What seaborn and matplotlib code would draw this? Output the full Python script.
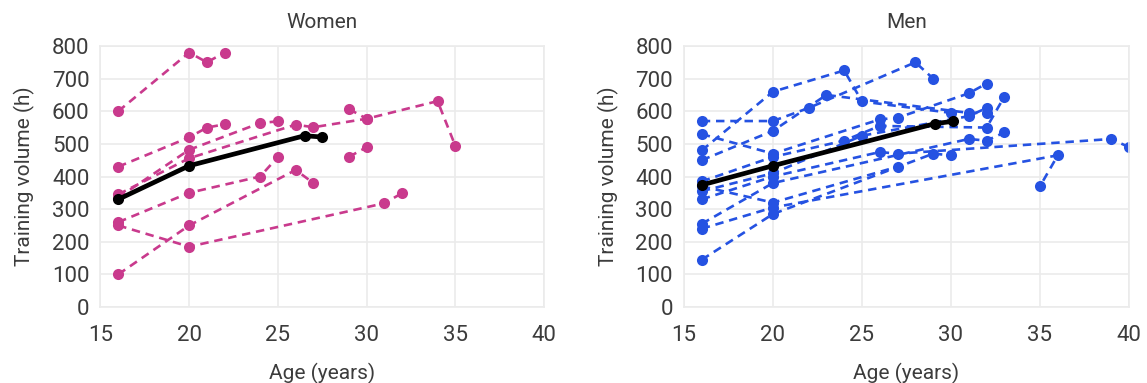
import pandas as pd
import matplotlib
matplotlib.use("Agg")
import matplotlib.pyplot as plt
import seaborn as sns

# ---------------------------------
# Data
# ---------------------------------

WOMEN_AGES = [
    [16, 20, 21, 22],
    [16, 20, 21, 22],
    [16, 20, 24, 25],
    [16, 20, 26, 27, 30, 34, 35],
    [16, 20, 24, 25],
    [16, 20, 31, 32],
    [16, 20, 26, 27],
    [29, 30],
    [29, 30],
]
WOMEN_HOURS = [
    [600, 780, 750, 780],
    [430, 520, 550, 560],
    [335, 482, 564, 569],
    [345, 456, 559, 551, 577, 631, 494],
    [260, 350, 400, 460],
    [250, 185, 318, 349],
    [100, 250, 420, 380],
    [607, 577],
    [460, 490],
]
WOMEN_MEAN_AGE = [16, 20, 26.5, 27.5]
WOMEN_MEAN_HOURS = [330, 433, 525, 521]

# athletes are kept in recorded order (not re-sorted by age)
MEN_AGES = [
    [16, 20, 22, 28, 29],
    [16, 20, 24, 25, 30],
    [16, 20, 23, 31, 32],
    [16, 20, 26, 27, 31, 32],
    [16, 20, 24, 26, 32, 33],
    [16, 20, 25, 31, 32],
    [16, 20, 26, 27, 39, 40],
    [16, 20, 31, 32, 33],
    [16, 20, 36, 35],
    [16, 20, 29, 30],
    [16, 20, 27],
]
MEN_HOURS = [
    [570, 570, 610, 750, 700],
    [480, 660, 725, 630, 595],
    [450, 540, 650, 595, 595],
    [530, 470, 575, 580, 655, 685],
    [385, 460, 510, 555, 550, 645],
    [355, 410, 525, 585, 610],
    [330, 400, 475, 470, 515, 490],
    [255, 380, 515, 510, 535],
    [240, 305, 465, 370],
    [145, 285, 470, 465],
    [370, 320, 430],
]
MEN_MEAN_AGE = [16, 20, 29.1, 30.1]
MEN_MEAN_HOURS = [374, 433, 562, 569]

X_TICKS = [15, 20, 25, 30, 35, 40]
Y_TICKS = [0, 100, 200, 300, 400, 500, 600, 700, 800]

WOMEN_COLOR = "#C93A8D"
MEN_COLOR = "#2552E2"
TEXT_COLOR = "#3C3C3C"
GRID_COLOR = "#EBEBEB"

# ---------------------------------
# Helpers
# ---------------------------------

def to_long(ages, hours):
    rows = []
    for i, (a_list, h_list) in enumerate(zip(ages, hours)):
        for a, h in zip(a_list, h_list):
            rows.append({"athlete": i, "age": a, "hours": h})
    return pd.DataFrame(rows)


def draw_panel(ax, ages, hours, mean_age, mean_hours, color, title):
    df = to_long(ages, hours)
    sns.lineplot(
        data=df, x="age", y="hours", units="athlete", estimator=None,
        color=color, linestyle=(0, (3.2, 2.2)), linewidth=1.9,
        marker="o", markersize=8, markeredgewidth=0, sort=False, ax=ax
    )
    mean_df = pd.DataFrame({"age": mean_age, "hours": mean_hours})
    sns.lineplot(
        data=mean_df, x="age", y="hours", color="black", linewidth=3.4,
        marker="o", markersize=8, markeredgewidth=0, sort=False, ax=ax
    )

    ax.set_xlim(15, 40)
    ax.set_ylim(0, 800)
    ax.set_xticks(X_TICKS)
    ax.set_yticks(Y_TICKS)
    ax.grid(True, color=GRID_COLOR, linewidth=1.2)
    ax.set_axisbelow(True)
    for spine in ax.spines.values():
        spine.set_color(GRID_COLOR)
        spine.set_linewidth(1.2)
    ax.tick_params(axis="y", length=0, labelsize=16, colors=TEXT_COLOR,
                   pad=8)
    ax.tick_params(axis="x", length=0, labelsize=16, colors=TEXT_COLOR,
                   pad=13)
    ax.set_title(title, fontsize=15, color=TEXT_COLOR, pad=13)
    ax.set_xlabel("Age (years)", fontsize=15, color=TEXT_COLOR,
                  labelpad=12)
    ax.set_ylabel("Training volume (h)", fontsize=15, color=TEXT_COLOR,
                  labelpad=12)


# ---------------------------------
# Figure
# ---------------------------------

sns.set_style("white")
plt.rcParams["font.family"] = ["Roboto", "DejaVu Sans"]

fig = plt.figure(figsize=(11.47, 3.83), dpi=100)
ax_w = fig.add_axes([0.0876, 0.1984, 0.3867, 0.6815])
ax_m = fig.add_axes([0.5963, 0.1984, 0.3880, 0.6815])

draw_panel(ax_w, WOMEN_AGES, WOMEN_HOURS, WOMEN_MEAN_AGE, WOMEN_MEAN_HOURS,
           WOMEN_COLOR, "Women")
draw_panel(ax_m, MEN_AGES, MEN_HOURS, MEN_MEAN_AGE, MEN_MEAN_HOURS,
           MEN_COLOR, "Men")

fig.savefig("out.png", dpi=100)
